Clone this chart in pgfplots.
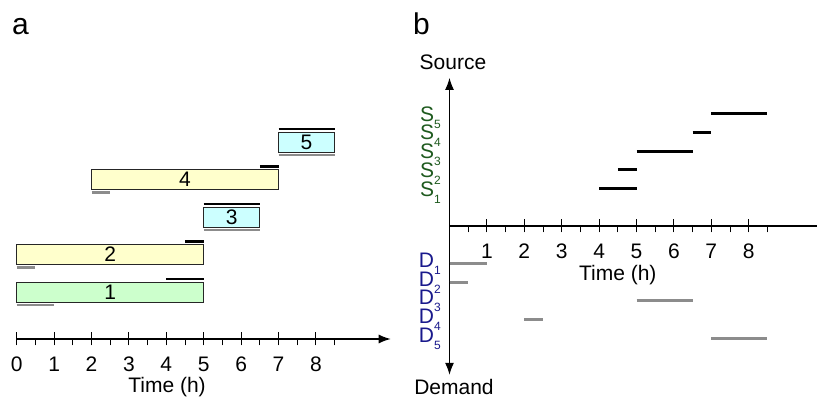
\documentclass[border=0pt]{standalone}
\usepackage{fontspec}
\setmainfont{Liberation Sans}
\usepackage{pgfplots}
\pgfplotsset{compat=1.18}
\usetikzlibrary{arrows.meta}
\definecolor{sgreen}{RGB}{30,90,30}
\definecolor{dblue}{RGB}{25,25,140}
\definecolor{lgray}{RGB}{140,140,140}
\definecolor{bgreen}{RGB}{204,255,204}
\definecolor{byellow}{RGB}{255,255,204}
\definecolor{bcyan}{RGB}{204,255,255}
\newcommand\ff{\fontsize{21}{25}\selectfont}
\newcommand\sub[1]{\raisebox{-7pt}{\fontsize{12}{12}\selectfont #1}}
\pgfplotsset{
  common/.style={
    clip=false,
    major tick length=13pt, minor tick length=6.5pt,
    tick style={line width=1pt, black},
    every minor tick/.append style={yshift=-3.25pt},
    xticklabel style={font=\ff, anchor=center, yshift=-18.5pt},
    /pgf/number format/assume math mode=true,
  },
}
\tikzset{
  slab/.style={font=\ff, text=sgreen, anchor=base east, inner sep=0pt, xshift=-8.5pt, yshift=-7.5pt},
  dlab/.style={font=\ff, text=dblue, anchor=base east, inner sep=0pt, xshift=-8.5pt, yshift=-4pt},
}
\begin{document}
\begin{tikzpicture}
\path[use as bounding box] (0pt,0pt) rectangle (817pt,399pt);
\node[anchor=base west, inner sep=0pt, font=\fontsize{30}{34}\selectfont] at (12pt,364pt) {a};
\node[anchor=base west, inner sep=0pt, font=\fontsize{30}{34}\selectfont] at (413pt,364pt) {b};

% ---------------- Panel a ----------------
\begin{axis}[common,
  at={(16.7pt,60pt)}, anchor=origin,
  x=37.4pt, y=1pt, xmin=0, xmax=10, ymin=0, ymax=220,
  axis x line=middle, axis y line=none,
  x axis line style={line width=1.2pt, -{Latex[length=12pt,width=9pt]}},
  xtick={0,...,8}, minor xtick={0.5,1.5,...,8.5},
]
% bars (center, +-10)
\addplot[draw=black!85, line width=0.9pt, fill=bgreen] coordinates {(0,37)(5,37)(5,57)(0,57)} -- cycle;
\addplot[draw=black!85, line width=0.9pt, fill=byellow] coordinates {(0,74.5)(5,74.5)(5,94.5)(0,94.5)} -- cycle;
\addplot[draw=black!85, line width=0.9pt, fill=bcyan] coordinates {(5,112)(6.5,112)(6.5,132)(5,132)} -- cycle;
\addplot[draw=black!85, line width=0.9pt, fill=byellow] coordinates {(2,149.5)(7,149.5)(7,169.5)(2,169.5)} -- cycle;
\addplot[draw=black!85, line width=0.9pt, fill=bcyan] coordinates {(7,187)(8.5,187)(8.5,207)(7,207)} -- cycle;
% source (black) lines
\addplot[black, line width=2.7pt] coordinates {(4,60)(5,60)};
\addplot[black, line width=2.7pt] coordinates {(4.5,97.5)(5,97.5)};
\addplot[black, line width=2.7pt] coordinates {(5,135)(6.5,135)};
\addplot[black, line width=2.7pt] coordinates {(6.5,172.5)(7,172.5)};
\addplot[black, line width=2.7pt] coordinates {(7,210)(8.5,210)};
% demand (gray) lines
\addplot[lgray, line width=2.7pt] coordinates {(0,34)(1,34)};
\addplot[lgray, line width=2.7pt] coordinates {(0,71.5)(0.5,71.5)};
\addplot[lgray, line width=2.7pt] coordinates {(5,109)(6.5,109)};
\addplot[lgray, line width=2.7pt] coordinates {(2,146.5)(2.5,146.5)};
\addplot[lgray, line width=2.7pt] coordinates {(7,184)(8.5,184)};
% numbers
\node[font=\ff] at (axis cs:2.5,47) {1};
\node[font=\ff] at (axis cs:2.5,84.5) {2};
\node[font=\ff] at (axis cs:5.75,122) {3};
\node[font=\ff] at (axis cs:4.5,159.5) {4};
\node[font=\ff] at (axis cs:7.75,197) {5};
\node[font=\ff] at (axis cs:4.02,-48) {Time (h)};
\end{axis}

% ---------------- Panel b ----------------
\begin{axis}[common,
  at={(449.5pt,173pt)}, anchor=origin,
  x=37.4pt, y=37.4pt, xmin=0, xmax=9.9, ymin=-3.98, ymax=3.96,
  axis lines=middle,
  x axis line style={line width=1.2pt, -},
  y axis line style={line width=1.2pt, {Latex[length=12pt,width=9pt]}-{Latex[length=12pt,width=9pt]}},
  xtick={1,...,8}, minor xtick={0.5,1.5,...,8.5}, ytick=\empty,
]
\addplot[black, line width=3pt] coordinates {(4,1)(5,1)};
\addplot[black, line width=3pt] coordinates {(4.5,1.5)(5,1.5)};
\addplot[black, line width=3pt] coordinates {(5,2)(6.5,2)};
\addplot[black, line width=3pt] coordinates {(6.5,2.5)(7,2.5)};
\addplot[black, line width=3pt] coordinates {(7,3)(8.5,3)};
\addplot[lgray, line width=3pt] coordinates {(0,-1)(1,-1)};
\addplot[lgray, line width=3pt] coordinates {(0,-1.5)(0.5,-1.5)};
\addplot[lgray, line width=3pt] coordinates {(5,-2)(6.5,-2)};
\addplot[lgray, line width=3pt] coordinates {(2,-2.5)(2.5,-2.5)};
\addplot[lgray, line width=3pt] coordinates {(7,-3)(8.5,-3)};
\node[slab] at (axis cs:0,1) {S\sub{1}};
\node[slab] at (axis cs:0,1.5) {S\sub{2}};
\node[slab] at (axis cs:0,2) {S\sub{3}};
\node[slab] at (axis cs:0,2.5) {S\sub{4}};
\node[slab] at (axis cs:0,3) {S\sub{5}};
\node[dlab] at (axis cs:0,-1) {D\sub{1}};
\node[dlab] at (axis cs:0,-1.5) {D\sub{2}};
\node[dlab] at (axis cs:0,-2) {D\sub{3}};
\node[dlab] at (axis cs:0,-2.5) {D\sub{4}};
\node[dlab] at (axis cs:0,-3) {D\sub{5}};
\node[font=\ff] at (axis cs:4.5,-1.31) {Time (h)};
\end{axis}
\node[font=\ff] at (453pt,337pt) {Source};
\node[font=\ff] at (454pt,12pt) {Demand};
\end{tikzpicture}
\end{document}
